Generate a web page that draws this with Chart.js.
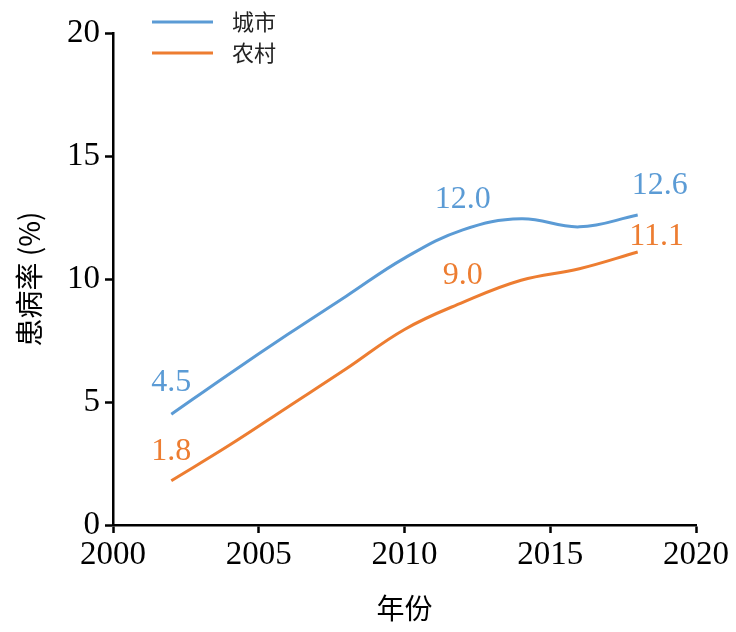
<!DOCTYPE html>
<html>
<head>
<meta charset="utf-8">
<script src="https://cdn.jsdelivr.net/npm/chart.js@4/dist/chart.umd.min.js"></script>
<style>
    html, body { margin: 0; padding: 0; background: #fff; }
    #wrap { width: 736px; height: 632px; }
</style>
</head>
<body>
<div id="wrap"><canvas id="prevalence"></canvas></div>
<script>
// values
const years = [2002, 2004, 2006, 2008, 2010, 2012, 2014, 2016, 2018];
const urbanValues = [4.5, 6.15, 7.75, 9.3, 10.85, 12.0, 12.45, 12.12, 12.6];
const ruralValues = [1.8, 3.25, 4.8, 6.35, 7.95, 9.05, 9.95, 10.42, 11.1];

// labelled points
const labelYears = [2002, 2012, 2018];
const urbanLabels = [4.5, 12.0, 12.6];
const ruralLabels = [1.8, 9.0, 11.1];

const seriesNames = ['城市', '农村'];
const xTicks = [2000, 2005, 2010, 2015, 2020];

const blue = '#5B9BD5';
const orange = '#ED7D31';

const toPoints = (vals) => years.map((x, i) => ({ x, y: vals[i] }));

// value labels + legend drawn on the canvas
const labelsPlugin = {
    id: 'valueLabels',
    afterDatasetsDraw(chart) {
        const { ctx, scales: { x, y } } = chart;
        ctx.save();
        ctx.font = '32px "Liberation Serif"';
        ctx.textAlign = 'center';
        ctx.textBaseline = 'middle';

        const urbanOffsets = [[0, -32], [0, -30], [22, -29]];
        const ruralOffsets = [[0, -29], [0, -28], [19, -15]];

        labelYears.forEach((yr, i) => {
            ctx.fillStyle = blue;
            ctx.fillText(urbanLabels[i].toFixed(1), x.getPixelForValue(yr) + urbanOffsets[i][0], y.getPixelForValue(urbanLabels[i]) + urbanOffsets[i][1]);
            ctx.fillStyle = orange;
            ctx.fillText(ruralLabels[i].toFixed(1), x.getPixelForValue(yr) + ruralOffsets[i][0], y.getPixelForValue(ruralLabels[i]) + ruralOffsets[i][1]);
        });

        // legend
        const colors = [blue, orange];
        ctx.font = '22px "Noto Sans CJK SC"';
        ctx.textAlign = 'left';
        seriesNames.forEach((name, i) => {
            const ly = 22 + i * 31;
            ctx.strokeStyle = colors[i];
            ctx.lineWidth = 3;
            ctx.beginPath();
            ctx.moveTo(152, ly);
            ctx.lineTo(213, ly);
            ctx.stroke();
            ctx.fillStyle = '#222';
            ctx.fillText(name, 232, ly);
        });
        ctx.restore();
    }
};

new Chart(document.getElementById('prevalence'), {
    type: 'line',
    data: {
        datasets: [
            {
                label: seriesNames[0],
                data: toPoints(urbanValues),
                borderColor: blue,
                borderWidth: 3,
                pointRadius: 0,
                tension: 0.4,
                fill: false
            },
            {
                label: seriesNames[1],
                data: toPoints(ruralValues),
                borderColor: orange,
                borderWidth: 3,
                pointRadius: 0,
                tension: 0.4,
                fill: false
            }
        ]
    },
    options: {
        responsive: true,
        maintainAspectRatio: false,
        animation: false,
        layout: { padding: { top: 33, right: 40, left: 0, bottom: 0 } },
        plugins: {
            legend: { display: false },
            tooltip: { enabled: false }
        },
        scales: {
            x: {
                type: 'linear',
                min: 2000,
                max: 2020,
                afterBuildTicks: (scale) => { scale.ticks = xTicks.map(v => ({ value: v })); },
                afterFit: (scale) => { scale.height = 107; },
                ticks: {
                    color: '#000',
                    font: { family: 'Liberation Serif', size: 33 },
                    padding: 3,
                    maxRotation: 0,
                    callback: (v) => String(v)
                },
                grid: {
                    drawOnChartArea: false,
                    tickLength: 8,
                    tickWidth: 2.5,
                    tickColor: '#000'
                },
                border: { color: '#000', width: 2.5 },
                title: {
                    display: true,
                    text: '年份',
                    color: '#000',
                    font: { family: 'Noto Sans CJK SC', size: 28 },
                    padding: { top: 0, bottom: 7 }
                }
            },
            y: {
                min: 0,
                max: 20,
                ticks: {
                    stepSize: 5,
                    color: '#000',
                    font: { family: 'Liberation Serif', size: 33 },
                    padding: 5
                },
                afterFit: (scale) => { scale.width = 113; },
                grid: {
                    drawOnChartArea: false,
                    tickLength: 8,
                    tickWidth: 2.5,
                    tickColor: '#000'
                },
                border: { color: '#000', width: 2.5 },
                title: {
                    display: true,
                    text: '患病率 (%)',
                    color: '#000',
                    font: { family: 'Noto Sans CJK SC', size: 28 },
                    padding: { top: 13, bottom: 0 }
                }
            }
        }
    },
    plugins: [labelsPlugin]
});
</script>
</body>
</html>
